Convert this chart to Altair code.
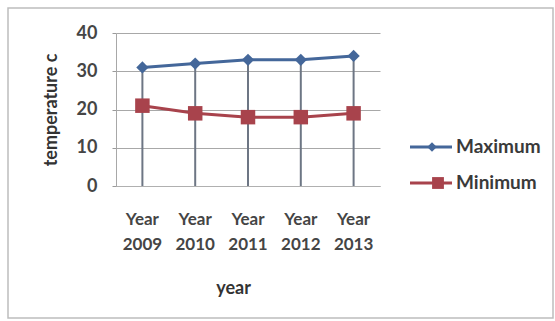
import altair as alt
import pandas as pd

years = ["Year 2009", "Year 2010", "Year 2011", "Year 2012", "Year 2013"]
maximum = [31, 32, 33, 33, 34]
minimum = [21, 19, 18, 18, 19]

BLUE = "#44679a"
RED = "#a8434c"
FONT = "Lato"
TXT = "#454545"

df = pd.DataFrame({"year": years, "Maximum": maximum, "Minimum": minimum})
long = df.melt("year", var_name="series", value_name="temp")

xscale = alt.Scale(domain=years, paddingInner=0, paddingOuter=0)
yscale = alt.Scale(domain=[0, 40], nice=False)

xaxis = alt.Axis(labelAngle=0, labelExpr="split(datum.label, ' ')",
                 labelFont=FONT, labelFontSize=17, labelFontWeight="bold",
                 labelColor=TXT, labelLineHeight=25, labelPadding=25,
                 ticks=False, domainColor="#b0b0b0", labelOverlap=False,
                 titleFont=FONT, titleFontSize=18, titleFontWeight="bold",
                 titleColor="#333333", titlePadding=27, titleX=117, grid=False)
yaxis = alt.Axis(values=[0, 10, 20, 30, 40], labelFont=FONT, labelFontSize=18,
                 labelFontWeight="bold", labelColor=TXT, labelPadding=15,
                 labelOverlap=False, labelBound=False, labelFlush=False,
                 tickSize=4, tickColor="#9a9a9a", domain=True, domainColor="#a8a8a8",
                 gridColor="#a8a8a8", gridWidth=1,
                 titleFont=FONT, titleFontSize=18, titleFontWeight="bold",
                 titleColor="#333333", titlePadding=16)

def X():
    return alt.X("year:N", sort=years, title="year", scale=xscale, axis=xaxis)

def Y(field):
    return alt.Y(field, title="temperature c", scale=yscale, axis=yaxis)

frame = alt.Chart(pd.DataFrame({"a": [0]})).mark_rect(
    fill=None, stroke="#bdbdbd", strokeWidth=1.5
).encode(x=alt.value(-108), x2=alt.value(437), y=alt.value(-25), y2=alt.value(285))

drops = alt.Chart(df).mark_rule(color="#6d7684", strokeWidth=2).encode(
    x=X(), y=Y("Maximum:Q"), y2=alt.datum(0))

lines = alt.Chart(long).mark_line(strokeWidth=3).encode(
    x=X(), y=Y("temp:Q"),
    color=alt.Color("series:N", scale=alt.Scale(domain=["Maximum", "Minimum"], range=[BLUE, RED]), legend=None),
    detail="series:N")

pmax = alt.Chart(df).mark_point(shape="diamond", filled=True, size=150, color=BLUE, opacity=1).encode(
    x=X(), y=Y("Maximum:Q"))
pmin = alt.Chart(df).mark_point(shape="square", filled=True, size=210, color=RED, opacity=1).encode(
    x=X(), y=Y("Minimum:Q"))

leg = pd.DataFrame({"a": [0]})
def legend_item(label, color, shape, size, mx, ypos):
    base = alt.Chart(leg)
    r = base.mark_rule(color=color, strokeWidth=3).encode(
        x=alt.value(294), x2=alt.value(336), y=alt.value(ypos))
    p = base.mark_point(shape=shape, filled=True, size=size, color=color, opacity=1).encode(
        x=alt.value(mx), y=alt.value(ypos))
    t = base.mark_text(text=label, font=FONT, fontSize=19, fontWeight="bold",
                       color="#3a3a3a", align="left", baseline="middle").encode(
        x=alt.value(340), y=alt.value(ypos))
    return r + p + t

chart = alt.layer(
    drops, lines, pmax, pmin, frame,
    legend_item("Maximum", BLUE, "diamond", 90, 316, 114),
    legend_item("Minimum", RED, "square", 140, 322, 150),
).properties(
    width=264, height=153,
    autosize=alt.AutoSizeParams(type="none"),
    padding={"left": 116, "top": 33, "right": 175, "bottom": 135},
    background="white",
).configure_view(stroke=None)

chart.save("out.html", embed_options={"renderer": "svg", "actions": False})
